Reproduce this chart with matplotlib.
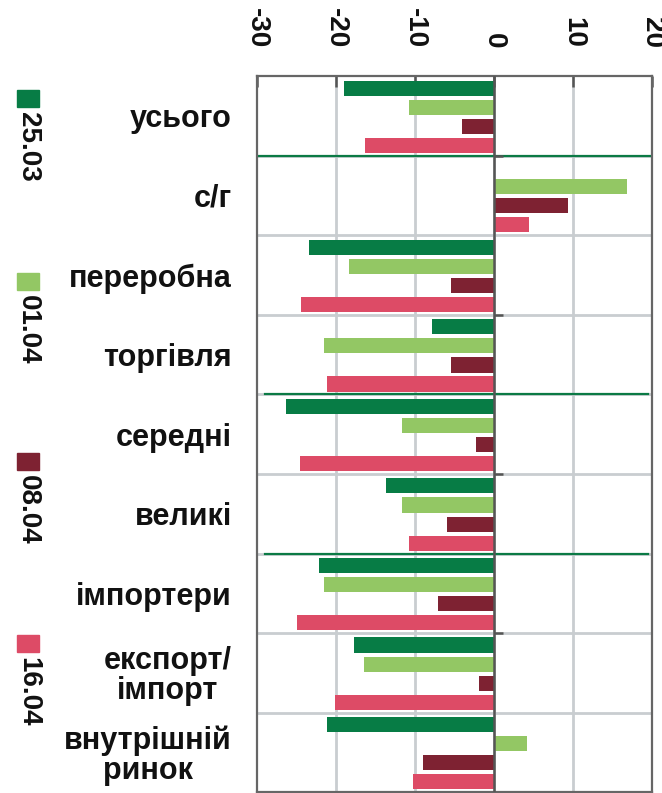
import matplotlib
matplotlib.use('Agg')
import numpy as np
import matplotlib.pyplot as plt
from matplotlib.patches import Rectangle

plt.rcParams['font.family'] = ['Liberation Sans', 'DejaVu Sans']

categories = ['усього', 'с/г', 'переробна', 'торгівля', 'середні', 'великі',
              'імпортери', 'експорт/\nімпорт', 'внутрішній\nринок']
dates = ['25.03', '01.04', '08.04', '16.04']
v_2503 = [-19.0, 0.0, -23.4, -7.8, -26.3, -13.7, -22.2, -17.7, -21.1]
v_0104 = [-10.8, 16.8, -18.3, -21.5, -11.6, -11.6, -21.5, -16.4, 4.2]
v_0804 = [-4.1, 9.4, -5.5, -5.5, -2.3, -5.9, -7.1, -1.9, -9.0]
v_1604 = [-16.3, 4.4, -24.4, -21.1, -24.5, -10.8, -24.9, -20.1, -10.3]
colors = ['#077c45', '#93c764', '#7e2232', '#dd4b66']
x_ticks = [-30, -20, -10, 0, 10, 20]

series = [v_2503, v_0104, v_0804, v_1604]
offsets = [-0.35, -0.11, 0.13, 0.37]

fig = plt.figure(figsize=(6.62, 7.93), dpi=100)
ax = fig.add_axes([0.388, 0.001, 0.597, 0.903])

y = np.arange(len(categories))
for vals, off, c in zip(series, offsets, colors):
    ax.barh(y + off, vals, height=0.19, color=c, zorder=3)

ax.set_xlim(-30, 20)
ax.set_ylim(len(categories) - 0.5, -0.5)

# grid: vertical at ticks, horizontal between groups
for t in x_ticks[1:-1]:
    ax.axvline(t, color='#c9cdd0', lw=2, zorder=1)
bounds = y[:-1] + 0.5
for b in bounds:
    ax.axhline(b, color='#c9cdd0', lw=2, zorder=1)
ax.axhline(bounds[0], color='#0b7a45', lw=1.6, zorder=2)
ax.axhline(bounds[3], xmin=0.02, xmax=0.99, color='#0b7a45', lw=1.6, zorder=2)
ax.axhline(bounds[5], xmin=0.02, xmax=0.99, color='#0b7a45', lw=1.6, zorder=2)

# zero axis with small tick marks
ax.axvline(0, color='#555555', lw=1.8, zorder=4)
for b in bounds[::2]:
    ax.hlines(b, 0, 1.2, color='#555555', lw=1.8, zorder=4)

for s in ax.spines.values():
    s.set_color('#666666')
    s.set_linewidth(1.6)

ax.xaxis.tick_top()
ax.set_xticks(x_ticks)
ax.set_xticklabels([str(t) for t in x_ticks], rotation=-90, fontsize=20,
                   fontweight='bold', color='#111111')
ax.tick_params(axis='x', direction='in', length=8, width=1.8, color='#555555', pad=20)

ax.set_yticks(y)
ax.set_yticklabels(categories, fontsize=22, fontweight='bold', color='#111111',
                   multialignment='center', linespacing=1.0)
ax.tick_params(axis='y', length=0, pad=18)

# legend drawn as rotated entries down the left side
leg_top = [90, 273, 453, 635]
for lab, c, top in zip(dates, colors, leg_top):
    fy = 1 - top / 793
    fig.add_artist(Rectangle((17 / 662, fy - 17 / 793), 22 / 662, 17 / 793,
                             transform=fig.transFigure, color=c))
    fig.text(28 / 662, fy - 22 / 793, lab, rotation=-90, ha='center', va='top',
             fontsize=20, fontweight='bold', color='#111111')

fig.savefig('out.png', dpi=100)
